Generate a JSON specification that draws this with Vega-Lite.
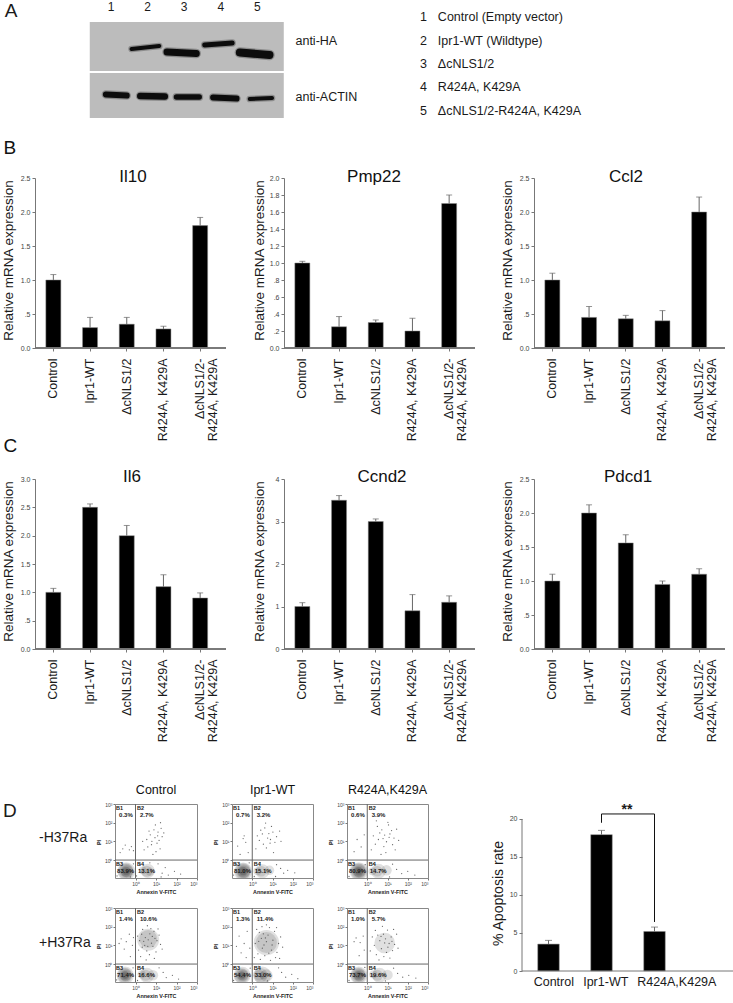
{"$schema":"https://vega.github.io/schema/vega-lite/v6.json","padding":0,"background":"white","config":{"font":"Liberation Sans","view":{"stroke":null},"title":{"fontWeight":"normal","baseline":"alphabetic","color":"#111"},"axis":{"grid":false,"labelOverlap":false,"domainColor":"#777","tickColor":"#777","labelColor":"#444","titleColor":"#1a1a1a","titleFontWeight":"normal"},"text":{"color":"#1a1a1a"}},
"datasets":{
"gel":[{"blot":"HA","a":0.42,"b":5.72,"t":22,"u":71},{"blot":"ACTIN","a":0.42,"b":5.72,"t":73,"u":118}],
"bands":[{"lane":2,"a":1.56,"b":2.32,"ya":49,"yb":46,"w":4},{"lane":3,"a":2.53,"b":3.33,"ya":52,"yb":53.5,"w":7},{"lane":4,"a":3.56,"b":4.31,"ya":45,"yb":43,"w":5},{"lane":5,"a":4.52,"b":5.33,"ya":52.5,"yb":55,"w":8},{"lane":1,"a":0.86,"b":1.43,"ya":94.5,"yb":95.5,"w":6},{"lane":2,"a":1.8,"b":2.47,"ya":96,"yb":96.5,"w":6.5},{"lane":3,"a":2.79,"b":3.41,"ya":97,"yb":97,"w":5.5},{"lane":4,"a":3.79,"b":4.43,"ya":97.5,"yb":98.5,"w":6},{"lane":5,"a":4.79,"b":5.4,"ya":99,"yb":98,"w":4}],
"atext":[{"k":"lane","s":"1","x":1,"y":7},{"k":"lane","s":"2","x":2,"y":7},{"k":"lane","s":"3","x":3,"y":7},{"k":"lane","s":"4","x":4,"y":7},{"k":"lane","s":"5","x":5,"y":7},{"k":"lab","s":"anti-HA","x":6.04,"y":41},{"k":"lab","s":"anti-ACTIN","x":6.04,"y":97},{"k":"lab","s":"1","x":9.44,"y":17},{"k":"lab","s":"2","x":9.44,"y":41},{"k":"lab","s":"3","x":9.44,"y":64},{"k":"lab","s":"4","x":9.44,"y":87},{"k":"lab","s":"5","x":9.44,"y":111},{"k":"lab","s":"Control (Empty vector)","x":9.93,"y":17},{"k":"lab","s":"Ipr1-WT (Wildtype)","x":9.93,"y":41},{"k":"lab","s":"ΔcNLS1/2","x":9.93,"y":64},{"k":"lab","s":"R424A, K429A","x":9.93,"y":87},{"k":"lab","s":"ΔcNLS1/2-R424A, K429A","x":9.93,"y":111},{"k":"big","s":"A","x":-1.9,"y":17}],
"expr":[
{"gene":"Il10","group":"Control","value":1.0,"top":1.08},{"gene":"Il10","group":"Ipr1-WT","value":0.3,"top":0.45},{"gene":"Il10","group":"ΔcNLS1/2","value":0.35,"top":0.45},{"gene":"Il10","group":"R424A, K429A","value":0.28,"top":0.32},{"gene":"Il10","group":"ΔcNLS1/2-|R424A, K429A","value":1.8,"top":1.92},
{"gene":"Pmp22","group":"Control","value":1.0,"top":1.02},{"gene":"Pmp22","group":"Ipr1-WT","value":0.25,"top":0.37},{"gene":"Pmp22","group":"ΔcNLS1/2","value":0.3,"top":0.33},{"gene":"Pmp22","group":"R424A, K429A","value":0.2,"top":0.35},{"gene":"Pmp22","group":"ΔcNLS1/2-|R424A, K429A","value":1.7,"top":1.8},
{"gene":"Ccl2","group":"Control","value":1.0,"top":1.1},{"gene":"Ccl2","group":"Ipr1-WT","value":0.45,"top":0.61},{"gene":"Ccl2","group":"ΔcNLS1/2","value":0.43,"top":0.48},{"gene":"Ccl2","group":"R424A, K429A","value":0.4,"top":0.55},{"gene":"Ccl2","group":"ΔcNLS1/2-|R424A, K429A","value":2.0,"top":2.22},
{"gene":"Il6","group":"Control","value":1.0,"top":1.07},{"gene":"Il6","group":"Ipr1-WT","value":2.5,"top":2.56},{"gene":"Il6","group":"ΔcNLS1/2","value":2.0,"top":2.18},{"gene":"Il6","group":"R424A, K429A","value":1.1,"top":1.31},{"gene":"Il6","group":"ΔcNLS1/2-|R424A, K429A","value":0.9,"top":0.99},
{"gene":"Ccnd2","group":"Control","value":1.0,"top":1.09},{"gene":"Ccnd2","group":"Ipr1-WT","value":3.5,"top":3.61},{"gene":"Ccnd2","group":"ΔcNLS1/2","value":3.0,"top":3.06},{"gene":"Ccnd2","group":"R424A, K429A","value":0.9,"top":1.28},{"gene":"Ccnd2","group":"ΔcNLS1/2-|R424A, K429A","value":1.1,"top":1.25},
{"gene":"Pdcd1","group":"Control","value":1.0,"top":1.1},{"gene":"Pdcd1","group":"Ipr1-WT","value":2.0,"top":2.12},{"gene":"Pdcd1","group":"ΔcNLS1/2","value":1.56,"top":1.68},{"gene":"Pdcd1","group":"R424A, K429A","value":0.95,"top":1.0},{"gene":"Pdcd1","group":"ΔcNLS1/2-|R424A, K429A","value":1.1,"top":1.18}],
"apop":[{"n":1,"value":3.54,"top":4.03},{"n":2,"value":17.94,"top":18.5},{"n":3,"value":5.2,"top":5.78}],
"apopLabels":[{"s":"Control","n":1.1,"y":-1.45},{"s":"Ipr1-WT","n":2.08,"y":-1.45},{"s":"R424A,K429A","n":3.42,"y":-1.45}],
"bracket":[{"step":1,"n":2,"y":19.5},{"step":2,"n":2,"y":20.66},{"step":3,"n":3,"y":20.66},{"step":4,"n":3,"y":6.45}],
"stars":[{"s":"**","n":2.48,"y":21.2}],
"side":[{"s":"D","c":"big","x":2,"y":13,"cell":1},{"s":"-H37Ra","c":"m","x":38,"y":34,"cell":1},{"s":"+H37Ra","c":"m","x":38,"y":35,"cell":2}],
"quad":[{"s":"B1","x":-0.95,"y":2.79},{"s":"B2","x":0.07,"y":2.79},{"s":"B3","x":-0.95,"y":-0.2},{"s":"B4","x":0.07,"y":-0.2}],
"pct":[
{"p":"c1","s":"0.3%","x":-0.8,"y":2.41},{"p":"c1","s":"2.7%","x":0.22,"y":2.41},{"p":"c1","s":"83.9%","x":-0.9,"y":-0.58},{"p":"c1","s":"13.1%","x":0.12,"y":-0.58},
{"p":"i1","s":"0.7%","x":-0.8,"y":2.41},{"p":"i1","s":"3.2%","x":0.22,"y":2.41},{"p":"i1","s":"81.0%","x":-0.9,"y":-0.58},{"p":"i1","s":"15.1%","x":0.12,"y":-0.58},
{"p":"r1","s":"0.6%","x":-0.8,"y":2.41},{"p":"r1","s":"3.9%","x":0.22,"y":2.41},{"p":"r1","s":"80.9%","x":-0.9,"y":-0.58},{"p":"r1","s":"14.7%","x":0.12,"y":-0.58},
{"p":"c2","s":"1.4%","x":-0.8,"y":2.41},{"p":"c2","s":"10.6%","x":0.22,"y":2.41},{"p":"c2","s":"71.4%","x":-0.9,"y":-0.58},{"p":"c2","s":"16.6%","x":0.12,"y":-0.58},
{"p":"i2","s":"1.3%","x":-0.8,"y":2.41},{"p":"i2","s":"11.4%","x":0.22,"y":2.41},{"p":"i2","s":"54.4%","x":-0.9,"y":-0.58},{"p":"i2","s":"33.0%","x":0.12,"y":-0.58},
{"p":"r2","s":"1.0%","x":-0.8,"y":2.41},{"p":"r2","s":"5.7%","x":0.22,"y":2.41},{"p":"r2","s":"73.7%","x":-0.9,"y":-0.58},{"p":"r2","s":"19.6%","x":0.12,"y":-0.58}],
"blobs":[
{"p":"c1","x":-0.45,"y":-0.6,"n":320},{"p":"c1","x":-0.47,"y":-0.6,"n":250},{"p":"c1","x":-0.45,"y":-0.58,"n":190},{"p":"c1","x":-0.43,"y":-0.6,"n":140},{"p":"c1","x":-0.47,"y":-0.62,"n":100},{"p":"c1","x":-0.45,"y":-0.6,"n":65},{"p":"c1","x":-0.46,"y":-0.62,"n":35},{"p":"c1","x":0.6,"y":-0.58,"n":200},{"p":"c1","x":0.55,"y":-0.6,"n":120},{"p":"c1","x":0.7,"y":-0.62,"n":70},{"p":"c1","x":0.35,"y":-0.55,"n":60},
{"p":"i1","x":-0.45,"y":-0.62,"n":330},{"p":"i1","x":-0.46,"y":-0.6,"n":260},{"p":"i1","x":-0.44,"y":-0.6,"n":200},{"p":"i1","x":-0.43,"y":-0.62,"n":150},{"p":"i1","x":-0.47,"y":-0.62,"n":105},{"p":"i1","x":-0.45,"y":-0.6,"n":70},{"p":"i1","x":-0.46,"y":-0.62,"n":40},{"p":"i1","x":0.5,"y":-0.6,"n":200},{"p":"i1","x":0.45,"y":-0.6,"n":110},{"p":"i1","x":0.85,"y":-0.55,"n":90},{"p":"i1","x":0.25,"y":-0.6,"n":60},
{"p":"r1","x":-0.42,"y":-0.6,"n":330},{"p":"r1","x":-0.43,"y":-0.6,"n":260},{"p":"r1","x":-0.42,"y":-0.58,"n":200},{"p":"r1","x":-0.4,"y":-0.6,"n":150},{"p":"r1","x":-0.44,"y":-0.62,"n":105},{"p":"r1","x":-0.42,"y":-0.6,"n":70},{"p":"r1","x":-0.43,"y":-0.6,"n":40},{"p":"r1","x":0.55,"y":-0.6,"n":220},{"p":"r1","x":0.5,"y":-0.6,"n":110},{"p":"r1","x":0.95,"y":-0.55,"n":110},{"p":"r1","x":0.25,"y":-0.6,"n":60},
{"p":"c2","x":-0.5,"y":-0.6,"n":300},{"p":"c2","x":-0.52,"y":-0.6,"n":230},{"p":"c2","x":-0.5,"y":-0.58,"n":170},{"p":"c2","x":-0.48,"y":-0.6,"n":125},{"p":"c2","x":-0.52,"y":-0.62,"n":85},{"p":"c2","x":-0.5,"y":-0.6,"n":55},{"p":"c2","x":-0.51,"y":-0.62,"n":30},{"p":"c2","x":0.55,"y":-0.6,"n":220},{"p":"c2","x":0.5,"y":-0.6,"n":120},{"p":"c2","x":0.85,"y":-0.6,"n":110},{"p":"c2","x":0.3,"y":-0.55,"n":70},{"p":"c2","x":0.62,"y":1.3,"n":480},{"p":"c2","x":0.62,"y":1.35,"n":320},
{"p":"i2","x":-0.5,"y":-0.6,"n":290},{"p":"i2","x":-0.52,"y":-0.62,"n":220},{"p":"i2","x":-0.5,"y":-0.6,"n":160},{"p":"i2","x":-0.48,"y":-0.6,"n":115},{"p":"i2","x":-0.53,"y":-0.62,"n":80},{"p":"i2","x":-0.5,"y":-0.6,"n":50},{"p":"i2","x":-0.5,"y":-0.62,"n":28},{"p":"i2","x":0.5,"y":-0.6,"n":300},{"p":"i2","x":0.4,"y":-0.6,"n":210},{"p":"i2","x":0.7,"y":-0.62,"n":160},{"p":"i2","x":0.35,"y":-0.6,"n":110},{"p":"i2","x":0.55,"y":-0.6,"n":60},{"p":"i2","x":0.7,"y":1.15,"n":640},{"p":"i2","x":0.7,"y":1.15,"n":440},
{"p":"r2","x":-0.42,"y":-0.6,"n":300},{"p":"r2","x":-0.43,"y":-0.6,"n":230},{"p":"r2","x":-0.42,"y":-0.58,"n":170},{"p":"r2","x":-0.4,"y":-0.6,"n":125},{"p":"r2","x":-0.44,"y":-0.62,"n":85},{"p":"r2","x":-0.42,"y":-0.6,"n":55},{"p":"r2","x":-0.43,"y":-0.6,"n":30},{"p":"r2","x":0.6,"y":-0.6,"n":220},{"p":"r2","x":0.5,"y":-0.6,"n":120},{"p":"r2","x":1.0,"y":-0.58,"n":110},{"p":"r2","x":0.3,"y":-0.55,"n":70},{"p":"r2","x":0.86,"y":1.13,"n":420}],
"dots":[
{"p":"c1","x":0.95,"y":1.2},{"p":"c1","x":1.1,"y":1.5},{"p":"c1","x":0.8,"y":1.0},{"p":"c1","x":1.25,"y":1.7},{"p":"c1","x":0.6,"y":0.7},{"p":"c1","x":1.05,"y":0.9},{"p":"c1","x":0.9,"y":1.62},{"p":"c1","x":1.3,"y":1.25},{"p":"c1","x":0.72,"y":1.35},{"p":"c1","x":1.15,"y":1.05},{"p":"c1","x":0.55,"y":1.1},{"p":"c1","x":1.0,"y":0.45},{"p":"c1","x":0.85,"y":0.3},{"p":"c1","x":1.2,"y":0.6},{"p":"c1","x":1.38,"y":1.45},{"p":"c1","x":0.97,"y":1.88},{"p":"c1","x":0.42,"y":0.55},{"p":"c1","x":1.08,"y":1.3},{"p":"c1","x":0.78,"y":0.82},{"p":"c1","x":1.22,"y":2.0},{"p":"c1","x":0.66,"y":1.55},{"p":"c1","x":0.35,"y":1.0},{"p":"c1","x":-0.5,"y":0.8},{"p":"c1","x":-0.3,"y":0.55},{"p":"c1","x":-0.62,"y":0.6},{"p":"c1","x":-0.2,"y":0.72},{"p":"c1","x":-0.75,"y":0.4},{"p":"c1","x":-0.1,"y":0.5},{"p":"c1","x":1.3,"y":-0.7},{"p":"c1","x":1.45,"y":-0.4},{"p":"c1","x":1.6,"y":-0.8},{"p":"c1","x":0.2,"y":-0.25},{"p":"c1","x":1.1,"y":-0.2},{"p":"c1","x":1.9,"y":-0.6},{"p":"c1","x":0.05,"y":-0.85},{"p":"c1","x":1.25,"y":-0.9},{"p":"c1","x":0.7,"y":-0.15},{"p":"c1","x":2.2,"y":-0.75},{"p":"c1","x":-0.85,"y":-0.2},{"p":"c1","x":-0.1,"y":-0.2},{"p":"c1","x":-0.9,"y":-0.85},{"p":"c1","x":-0.25,"y":-0.9},
{"p":"i1","x":0.76,"y":1.18},{"p":"i1","x":0.5,"y":1.4},{"p":"i1","x":1.02,"y":1.5},{"p":"i1","x":0.88,"y":0.9},{"p":"i1","x":0.62,"y":1.72},{"p":"i1","x":1.2,"y":1.25},{"p":"i1","x":0.35,"y":1.05},{"p":"i1","x":0.95,"y":1.8},{"p":"i1","x":0.7,"y":0.65},{"p":"i1","x":1.35,"y":1.55},{"p":"i1","x":0.55,"y":0.85},{"p":"i1","x":1.12,"y":0.95},{"p":"i1","x":0.42,"y":1.6},{"p":"i1","x":0.82,"y":1.42},{"p":"i1","x":1.05,"y":0.4},{"p":"i1","x":0.25,"y":1.3},{"p":"i1","x":1.42,"y":1.0},{"p":"i1","x":0.66,"y":1.98},{"p":"i1","x":0.9,"y":1.1},{"p":"i1","x":0.18,"y":0.6},{"p":"i1","x":-0.4,"y":1.3},{"p":"i1","x":-0.32,"y":0.95},{"p":"i1","x":-0.45,"y":1.15},{"p":"i1","x":-0.6,"y":0.3},{"p":"i1","x":-0.2,"y":0.4},{"p":"i1","x":-0.72,"y":0.75},{"p":"i1","x":1.4,"y":-0.45},{"p":"i1","x":1.55,"y":-0.7},{"p":"i1","x":1.2,"y":-0.25},{"p":"i1","x":0.4,"y":-0.15},{"p":"i1","x":1.75,"y":-0.55},{"p":"i1","x":0.1,"y":-0.88},{"p":"i1","x":1.15,"y":-0.88},{"p":"i1","x":2.1,"y":-0.68},{"p":"i1","x":-0.82,"y":-0.22},{"p":"i1","x":-0.15,"y":-0.15},{"p":"i1","x":-0.92,"y":-0.8},
{"p":"r1","x":0.86,"y":1.34},{"p":"r1","x":1.2,"y":1.58},{"p":"r1","x":0.55,"y":1.1},{"p":"r1","x":1.05,"y":1.88},{"p":"r1","x":0.72,"y":1.62},{"p":"r1","x":1.32,"y":1.18},{"p":"r1","x":0.4,"y":0.85},{"p":"r1","x":0.95,"y":0.98},{"p":"r1","x":1.12,"y":1.4},{"p":"r1","x":0.62,"y":1.45},{"p":"r1","x":1.45,"y":1.65},{"p":"r1","x":0.82,"y":0.72},{"p":"r1","x":1.02,"y":2.02},{"p":"r1","x":0.3,"y":1.3},{"p":"r1","x":1.25,"y":0.82},{"p":"r1","x":0.5,"y":1.8},{"p":"r1","x":0.78,"y":1.15},{"p":"r1","x":1.38,"y":0.55},{"p":"r1","x":0.92,"y":0.4},{"p":"r1","x":0.2,"y":0.55},{"p":"r1","x":1.08,"y":1.22},{"p":"r1","x":0.68,"y":0.3},{"p":"r1","x":1.55,"y":1.05},{"p":"r1","x":0.45,"y":2.1},{"p":"r1","x":-0.5,"y":1.1},{"p":"r1","x":-0.3,"y":0.7},{"p":"r1","x":-0.65,"y":0.45},{"p":"r1","x":-0.15,"y":1.35},{"p":"r1","x":1.45,"y":-0.5},{"p":"r1","x":1.7,"y":-0.72},{"p":"r1","x":1.25,"y":-0.22},{"p":"r1","x":0.3,"y":-0.18},{"p":"r1","x":2.0,"y":-0.6},{"p":"r1","x":2.35,"y":-0.8},{"p":"r1","x":1.1,"y":-0.9},{"p":"r1","x":-0.8,"y":-0.18},{"p":"r1","x":-0.1,"y":-0.25},{"p":"r1","x":-0.9,"y":-0.88},
{"p":"c2","x":0.62,"y":1.3},{"p":"c2","x":0.3,"y":1.6},{"p":"c2","x":0.9,"y":1.75},{"p":"c2","x":0.45,"y":1.0},{"p":"c2","x":0.75,"y":1.9},{"p":"c2","x":1.05,"y":1.25},{"p":"c2","x":0.2,"y":1.25},{"p":"c2","x":0.55,"y":0.7},{"p":"c2","x":0.85,"y":0.95},{"p":"c2","x":1.15,"y":1.55},{"p":"c2","x":0.35,"y":1.85},{"p":"c2","x":0.68,"y":0.5},{"p":"c2","x":1.0,"y":0.65},{"p":"c2","x":0.15,"y":0.75},{"p":"c2","x":0.48,"y":1.42},{"p":"c2","x":0.78,"y":1.12},{"p":"c2","x":1.22,"y":1.05},{"p":"c2","x":0.58,"y":2.05},{"p":"c2","x":0.25,"y":0.4},{"p":"c2","x":0.92,"y":0.3},{"p":"c2","x":0.4,"y":1.22},{"p":"c2","x":0.7,"y":1.62},{"p":"c2","x":1.1,"y":1.88},{"p":"c2","x":0.52,"y":0.22},{"p":"c2","x":0.1,"y":1.5},{"p":"c2","x":0.82,"y":1.48},{"p":"c2","x":1.3,"y":0.8},{"p":"c2","x":0.33,"y":0.9},{"p":"c2","x":0.6,"y":0.95},{"p":"c2","x":0.95,"y":1.38},{"p":"c2","x":-0.7,"y":1.35},{"p":"c2","x":-0.45,"y":1.2},{"p":"c2","x":-0.3,"y":1.6},{"p":"c2","x":-0.55,"y":0.8},{"p":"c2","x":-0.15,"y":1.0},{"p":"c2","x":-0.8,"y":1.1},{"p":"c2","x":-0.25,"y":0.4},{"p":"c2","x":-0.1,"y":1.42},{"p":"c2","x":1.35,"y":-0.45},{"p":"c2","x":1.5,"y":-0.72},{"p":"c2","x":1.15,"y":-0.2},{"p":"c2","x":0.35,"y":-0.15},{"p":"c2","x":1.8,"y":-0.6},{"p":"c2","x":2.1,"y":-0.8},{"p":"c2","x":0.1,"y":-0.88},{"p":"c2","x":-0.85,"y":-0.2},{"p":"c2","x":-0.12,"y":-0.2},{"p":"c2","x":-0.92,"y":-0.85},
{"p":"i2","x":0.7,"y":1.2},{"p":"i2","x":0.35,"y":1.7},{"p":"i2","x":1.1,"y":1.75},{"p":"i2","x":0.5,"y":0.85},{"p":"i2","x":0.85,"y":1.95},{"p":"i2","x":1.3,"y":1.1},{"p":"i2","x":0.15,"y":1.1},{"p":"i2","x":0.62,"y":0.45},{"p":"i2","x":0.95,"y":0.75},{"p":"i2","x":1.4,"y":1.45},{"p":"i2","x":0.28,"y":0.55},{"p":"i2","x":1.15,"y":0.35},{"p":"i2","x":0.45,"y":1.38},{"p":"i2","x":0.78,"y":1.55},{"p":"i2","x":1.02,"y":1.28},{"p":"i2","x":0.58,"y":1.02},{"p":"i2","x":0.22,"y":1.85},{"p":"i2","x":0.9,"y":0.2},{"p":"i2","x":1.22,"y":0.62},{"p":"i2","x":0.4,"y":0.25},{"p":"i2","x":0.7,"y":2.1},{"p":"i2","x":1.5,"y":0.9},{"p":"i2","x":0.1,"y":0.35},{"p":"i2","x":0.55,"y":1.62},{"p":"i2","x":0.98,"y":1.02},{"p":"i2","x":0.32,"y":1.22},{"p":"i2","x":0.82,"y":0.58},{"p":"i2","x":1.2,"y":1.95},{"p":"i2","x":0.65,"y":1.4},{"p":"i2","x":1.35,"y":0.3},{"p":"i2","x":0.48,"y":2.0},{"p":"i2","x":-0.65,"y":1.5},{"p":"i2","x":-0.4,"y":1.1},{"p":"i2","x":-0.25,"y":1.75},{"p":"i2","x":-0.55,"y":0.6},{"p":"i2","x":-0.12,"y":0.85},{"p":"i2","x":-0.78,"y":0.95},{"p":"i2","x":-0.3,"y":0.35},{"p":"i2","x":1.45,"y":-0.45},{"p":"i2","x":1.65,"y":-0.7},{"p":"i2","x":1.3,"y":-0.2},{"p":"i2","x":0.3,"y":-0.12},{"p":"i2","x":1.95,"y":-0.55},{"p":"i2","x":2.25,"y":-0.78},{"p":"i2","x":0.75,"y":-0.9},{"p":"i2","x":-0.88,"y":-0.18},{"p":"i2","x":-0.1,"y":-0.22},{"p":"i2","x":-0.92,"y":-0.88},
{"p":"r2","x":0.86,"y":1.13},{"p":"r2","x":1.18,"y":1.45},{"p":"r2","x":0.52,"y":1.55},{"p":"r2","x":1.0,"y":1.82},{"p":"r2","x":0.7,"y":0.82},{"p":"r2","x":1.35,"y":1.05},{"p":"r2","x":0.35,"y":1.0},{"p":"r2","x":0.95,"y":0.62},{"p":"r2","x":1.25,"y":0.72},{"p":"r2","x":0.62,"y":1.25},{"p":"r2","x":0.8,"y":1.6},{"p":"r2","x":1.45,"y":1.6},{"p":"r2","x":0.45,"y":0.5},{"p":"r2","x":1.08,"y":1.1},{"p":"r2","x":0.25,"y":1.45},{"p":"r2","x":0.75,"y":2.02},{"p":"r2","x":1.12,"y":0.32},{"p":"r2","x":0.58,"y":0.22},{"p":"r2","x":0.9,"y":1.35},{"p":"r2","x":1.3,"y":1.85},{"p":"r2","x":0.4,"y":1.8},{"p":"r2","x":0.15,"y":0.7},{"p":"r2","x":1.52,"y":0.85},{"p":"r2","x":0.68,"y":1.48},{"p":"r2","x":1.02,"y":0.9},{"p":"r2","x":0.82,"y":0.4},{"p":"r2","x":1.22,"y":1.22},{"p":"r2","x":-0.55,"y":1.4},{"p":"r2","x":-0.35,"y":1.15},{"p":"r2","x":-0.2,"y":1.5},{"p":"r2","x":-0.65,"y":1.2},{"p":"r2","x":-0.4,"y":0.45},{"p":"r2","x":-0.15,"y":0.75},{"p":"r2","x":1.5,"y":-0.5},{"p":"r2","x":1.75,"y":-0.7},{"p":"r2","x":1.3,"y":-0.22},{"p":"r2","x":0.35,"y":-0.15},{"p":"r2","x":2.05,"y":-0.6},{"p":"r2","x":2.4,"y":-0.75},{"p":"r2","x":0.9,"y":-0.9},{"p":"r2","x":-0.85,"y":-0.2},{"p":"r2","x":-0.12,"y":-0.18},{"p":"r2","x":-0.9,"y":-0.88}]
},
"vconcat":[
{"width":733,"height":118,"layer":[
{"data":{"name":"gel"},"mark":{"type":"rect","color":"#bcbcbc"},"encoding":{"x":{"field":"a","type":"quantitative","scale":{"domain":[-2.005,18.02],"nice":false},"axis":null},"x2":{"field":"b"},"y":{"field":"t","type":"quantitative","scale":{"domain":[118,0],"nice":false},"axis":null},"y2":{"field":"u"}}},
{"data":{"name":"bands"},"mark":{"type":"rule","color":"#333","opacity":0.35,"strokeCap":"round"},"encoding":{"x":{"field":"a","type":"quantitative"},"x2":{"field":"b"},"y":{"field":"ya","type":"quantitative"},"y2":{"field":"yb"},"size":{"field":"w","type":"quantitative","scale":{"domain":[0,10],"range":[2.5,12.5]},"legend":null}}},
{"data":{"name":"bands"},"mark":{"type":"rule","color":"#0c0c0c","strokeCap":"round"},"encoding":{"x":{"field":"a","type":"quantitative"},"x2":{"field":"b"},"y":{"field":"ya","type":"quantitative"},"y2":{"field":"yb"},"size":{"field":"w","type":"quantitative","scale":{"domain":[0,10],"range":[0,10]},"legend":null}}},
{"data":{"name":"atext"},"transform":[{"filter":"datum.k=='lane'"}],"mark":{"type":"text","fontSize":12,"align":"center","baseline":"middle"},"encoding":{"x":{"field":"x","type":"quantitative"},"y":{"field":"y","type":"quantitative"},"text":{"field":"s"}}},
{"data":{"name":"atext"},"transform":[{"filter":"datum.k=='lab'"}],"mark":{"type":"text","fontSize":12.5,"align":"left","baseline":"middle"},"encoding":{"x":{"field":"x","type":"quantitative"},"y":{"field":"y","type":"quantitative"},"text":{"field":"s"}}},
{"data":{"name":"atext"},"transform":[{"filter":"datum.k=='big'"}],"mark":{"type":"text","fontSize":19,"align":"left","baseline":"alphabetic"},"encoding":{"x":{"field":"x","type":"quantitative"},"y":{"field":"y","type":"quantitative"},"text":{"field":"s"}}}
],"resolve":{"scale":{"size":"independent"}}},
{"width":5,"height":60,"data":{"values":[{"a":1}]},"mark":{"type":"rule","opacity":0},"encoding":{}},
{"hconcat":[
{"width":34,"height":1,"title":{"text":"B","fontSize":19,"anchor":"start","dx":3,"offset":20},"data":{"values":[{"a":1}]},"mark":{"type":"rule","opacity":0},"encoding":{}},
{"width":191,"height":170,"data":{"name":"expr"},"transform":[{"filter":"datum.gene=='Il10'"}],"encoding":{"x":{"field":"group","type":"nominal","sort":null,"title":null,"scale":{"range":[0,183.5],"padding":0},"axis":{"labelExpr":"split(datum.label,'|')","labelAngle":-90,"labelAlign":"right","labelBaseline":"middle","labelFontSize":12.5,"labelColor":"#1a1a1a","labelLineHeight":13,"labelPadding":7,"tickSize":3,"domain":false,"labelBound":false,"labelFlush":false}}},"layer":[
{"mark":{"type":"rule","color":"#666"},"encoding":{"y":{"field":"value","type":"quantitative","scale":{"domain":[0,2.5],"nice":false},"axis":{"values":[0,0.5,1,1.5,2,2.5],"tickCount":20,"labelExpr":"datum.value>0&&datum.value<1?slice(format(datum.value,'.1f'),1):format(datum.value,'.1f')","labelFontSize":7,"tickSize":3,"labelPadding":2,"title":"Relative mRNA expression","titleFontSize":13.5,"titleX":-23,"titleY":82,"titleBaseline":"alphabetic"}},"y2":{"field":"top"}}},
{"mark":{"type":"tick","color":"#666","size":6,"thickness":1},"encoding":{"y":{"field":"top","type":"quantitative"}}},
{"mark":{"type":"bar","width":15,"color":"#000","stroke":"#888","strokeWidth":0.5},"encoding":{"y":{"field":"value","type":"quantitative"}}},
{"mark":{"type":"rule","color":"#777"},"encoding":{"x":null,"y":{"datum":0}}},
{"transform":[{"filter":"datum.group=='ΔcNLS1/2'"}],"mark":{"type":"text","fontSize":17,"baseline":"alphabetic","dy":4,"dx":6.25,"color":"#111"},"encoding":{"y":{"datum":2.5},"text":{"field":"gene"}}}
]},
{"width":58,"height":1,"data":{"values":[{"a":1}]},"mark":{"type":"rule","opacity":0},"encoding":{}},
{"width":191,"height":170,"data":{"name":"expr"},"transform":[{"filter":"datum.gene=='Pmp22'"}],"encoding":{"x":{"field":"group","type":"nominal","sort":null,"title":null,"scale":{"range":[0,183.5],"padding":0},"axis":{"labelExpr":"split(datum.label,'|')","labelAngle":-90,"labelAlign":"right","labelBaseline":"middle","labelFontSize":12.5,"labelColor":"#1a1a1a","labelLineHeight":13,"labelPadding":7,"tickSize":3,"domain":false,"labelBound":false,"labelFlush":false}}},"layer":[
{"mark":{"type":"rule","color":"#666"},"encoding":{"y":{"field":"value","type":"quantitative","scale":{"domain":[0,2],"nice":false},"axis":{"values":[0,0.2,0.4,0.6,0.8,1,1.2,1.4,1.6,1.8,2],"tickCount":20,"labelExpr":"datum.value>0&&datum.value<1?slice(format(datum.value,'.1f'),1):format(datum.value,'.1f')","labelFontSize":7,"tickSize":3,"labelPadding":2,"title":"Relative mRNA expression","titleFontSize":13.5,"titleX":-21,"titleY":82,"titleBaseline":"alphabetic"}},"y2":{"field":"top"}}},
{"mark":{"type":"tick","color":"#666","size":6,"thickness":1},"encoding":{"y":{"field":"top","type":"quantitative"}}},
{"mark":{"type":"bar","width":15,"color":"#000","stroke":"#888","strokeWidth":0.5},"encoding":{"y":{"field":"value","type":"quantitative"}}},
{"mark":{"type":"rule","color":"#777"},"encoding":{"x":null,"y":{"datum":0}}},
{"transform":[{"filter":"datum.group=='ΔcNLS1/2'"}],"mark":{"type":"text","fontSize":17,"baseline":"alphabetic","dy":4,"dx":-1.75,"color":"#111"},"encoding":{"y":{"datum":2},"text":{"field":"gene"}}}
]},
{"width":59,"height":1,"data":{"values":[{"a":1}]},"mark":{"type":"rule","opacity":0},"encoding":{}},
{"width":191,"height":170,"data":{"name":"expr"},"transform":[{"filter":"datum.gene=='Ccl2'"}],"encoding":{"x":{"field":"group","type":"nominal","sort":null,"title":null,"scale":{"range":[0,183.5],"padding":0},"axis":{"labelExpr":"split(datum.label,'|')","labelAngle":-90,"labelAlign":"right","labelBaseline":"middle","labelFontSize":12.5,"labelColor":"#1a1a1a","labelLineHeight":13,"labelPadding":7,"tickSize":3,"domain":false,"labelBound":false,"labelFlush":false}}},"layer":[
{"mark":{"type":"rule","color":"#666"},"encoding":{"y":{"field":"value","type":"quantitative","scale":{"domain":[0,2.5],"nice":false},"axis":{"values":[0,0.5,1,1.5,2,2.5],"tickCount":20,"labelExpr":"datum.value>0&&datum.value<1?slice(format(datum.value,'.1f'),1):format(datum.value,'.1f')","labelFontSize":7,"tickSize":3,"labelPadding":2,"title":"Relative mRNA expression","titleFontSize":13.5,"titleX":-23,"titleY":82,"titleBaseline":"alphabetic"}},"y2":{"field":"top"}}},
{"mark":{"type":"tick","color":"#666","size":6,"thickness":1},"encoding":{"y":{"field":"top","type":"quantitative"}}},
{"mark":{"type":"bar","width":15,"color":"#000","stroke":"#888","strokeWidth":0.5},"encoding":{"y":{"field":"value","type":"quantitative"}}},
{"mark":{"type":"rule","color":"#777"},"encoding":{"x":null,"y":{"datum":0}}},
{"transform":[{"filter":"datum.group=='ΔcNLS1/2'"}],"mark":{"type":"text","fontSize":17,"baseline":"alphabetic","dy":4,"dx":0.25,"color":"#111"},"encoding":{"y":{"datum":2.5},"text":{"field":"gene"}}}
]}
],"spacing":0,"bounds":"flush"},
{"width":5,"height":301,"data":{"values":[{"a":1}]},"mark":{"type":"rule","opacity":0},"encoding":{}},
{"hconcat":[
{"width":34,"height":1,"title":{"text":"C","fontSize":19,"anchor":"start","dx":3,"offset":23},"data":{"values":[{"a":1}]},"mark":{"type":"rule","opacity":0},"encoding":{}},
{"width":191,"height":170,"data":{"name":"expr"},"transform":[{"filter":"datum.gene=='Il6'"}],"encoding":{"x":{"field":"group","type":"nominal","sort":null,"title":null,"scale":{"range":[0,183.5],"padding":0},"axis":{"labelExpr":"split(datum.label,'|')","labelAngle":-90,"labelAlign":"right","labelBaseline":"middle","labelFontSize":12.5,"labelColor":"#1a1a1a","labelLineHeight":13,"labelPadding":7,"tickSize":3,"domain":false,"labelBound":false,"labelFlush":false}}},"layer":[
{"mark":{"type":"rule","color":"#666"},"encoding":{"y":{"field":"value","type":"quantitative","scale":{"domain":[0,3],"nice":false},"axis":{"values":[0,0.5,1,1.5,2,2.5,3],"tickCount":20,"labelExpr":"datum.value>0&&datum.value<1?slice(format(datum.value,'.1f'),1):format(datum.value,'.1f')","labelFontSize":7,"tickSize":3,"labelPadding":2,"title":"Relative mRNA expression","titleFontSize":13.5,"titleX":-23,"titleY":82,"titleBaseline":"alphabetic"}},"y2":{"field":"top"}}},
{"mark":{"type":"tick","color":"#666","size":6,"thickness":1},"encoding":{"y":{"field":"top","type":"quantitative"}}},
{"mark":{"type":"bar","width":15,"color":"#000","stroke":"#888","strokeWidth":0.5},"encoding":{"y":{"field":"value","type":"quantitative"}}},
{"mark":{"type":"rule","color":"#777"},"encoding":{"x":null,"y":{"datum":0}}},
{"transform":[{"filter":"datum.group=='ΔcNLS1/2'"}],"mark":{"type":"text","fontSize":17,"baseline":"alphabetic","dy":3,"dx":5.25,"color":"#111"},"encoding":{"y":{"datum":3},"text":{"field":"gene"}}}
]},
{"width":58,"height":1,"data":{"values":[{"a":1}]},"mark":{"type":"rule","opacity":0},"encoding":{}},
{"width":191,"height":170,"data":{"name":"expr"},"transform":[{"filter":"datum.gene=='Ccnd2'"}],"encoding":{"x":{"field":"group","type":"nominal","sort":null,"title":null,"scale":{"range":[0,183.5],"padding":0},"axis":{"labelExpr":"split(datum.label,'|')","labelAngle":-90,"labelAlign":"right","labelBaseline":"middle","labelFontSize":12.5,"labelColor":"#1a1a1a","labelLineHeight":13,"labelPadding":7,"tickSize":3,"domain":false,"labelBound":false,"labelFlush":false}}},"layer":[
{"mark":{"type":"rule","color":"#666"},"encoding":{"y":{"field":"value","type":"quantitative","scale":{"domain":[0,4],"nice":false},"axis":{"values":[0,1,2,3,4],"tickCount":20,"format":"d","labelFontSize":7,"tickSize":3,"labelPadding":2,"title":"Relative mRNA expression","titleFontSize":13.5,"titleX":-21,"titleY":82,"titleBaseline":"alphabetic"}},"y2":{"field":"top"}}},
{"mark":{"type":"tick","color":"#666","size":6,"thickness":1},"encoding":{"y":{"field":"top","type":"quantitative"}}},
{"mark":{"type":"bar","width":15,"color":"#000","stroke":"#888","strokeWidth":0.5},"encoding":{"y":{"field":"value","type":"quantitative"}}},
{"mark":{"type":"rule","color":"#777"},"encoding":{"x":null,"y":{"datum":0}}},
{"transform":[{"filter":"datum.group=='ΔcNLS1/2'"}],"mark":{"type":"text","fontSize":17,"baseline":"alphabetic","dy":3,"dx":6.25,"color":"#111"},"encoding":{"y":{"datum":4},"text":{"field":"gene"}}}
]},
{"width":59,"height":1,"data":{"values":[{"a":1}]},"mark":{"type":"rule","opacity":0},"encoding":{}},
{"width":191,"height":170,"data":{"name":"expr"},"transform":[{"filter":"datum.gene=='Pdcd1'"}],"encoding":{"x":{"field":"group","type":"nominal","sort":null,"title":null,"scale":{"range":[0,183.5],"padding":0},"axis":{"labelExpr":"split(datum.label,'|')","labelAngle":-90,"labelAlign":"right","labelBaseline":"middle","labelFontSize":12.5,"labelColor":"#1a1a1a","labelLineHeight":13,"labelPadding":7,"tickSize":3,"domain":false,"labelBound":false,"labelFlush":false}}},"layer":[
{"mark":{"type":"rule","color":"#666"},"encoding":{"y":{"field":"value","type":"quantitative","scale":{"domain":[0,2.5],"nice":false},"axis":{"values":[0,0.5,1,1.5,2,2.5],"tickCount":20,"labelExpr":"datum.value>0&&datum.value<1?slice(format(datum.value,'.1f'),1):format(datum.value,'.1f')","labelFontSize":7,"tickSize":3,"labelPadding":2,"title":"Relative mRNA expression","titleFontSize":13.5,"titleX":-23,"titleY":82,"titleBaseline":"alphabetic"}},"y2":{"field":"top"}}},
{"mark":{"type":"tick","color":"#666","size":6,"thickness":1},"encoding":{"y":{"field":"top","type":"quantitative"}}},
{"mark":{"type":"bar","width":15,"color":"#000","stroke":"#888","strokeWidth":0.5},"encoding":{"y":{"field":"value","type":"quantitative"}}},
{"mark":{"type":"rule","color":"#777"},"encoding":{"x":null,"y":{"datum":0}}},
{"transform":[{"filter":"datum.group=='ΔcNLS1/2'"}],"mark":{"type":"text","fontSize":17,"baseline":"alphabetic","dy":3,"dx":2.25,"color":"#111"},"encoding":{"y":{"datum":2.5},"text":{"field":"gene"}}}
]}
],"spacing":0,"bounds":"flush"},
{"width":5,"height":325,"data":{"values":[{"a":1}]},"mark":{"type":"rule","opacity":0},"encoding":{}},
{"concat":[
{"width":114,"height":74,"data":{"name":"side"},"transform":[{"filter":"datum.cell==1"}],"layer":[
{"transform":[{"filter":"datum.c=='big'"}],"mark":{"type":"text","fontSize":19,"align":"left","baseline":"alphabetic"},"encoding":{"x":{"field":"x","type":"quantitative","scale":{"domain":[0,114],"nice":false},"axis":null},"y":{"field":"y","type":"quantitative","scale":{"domain":[74,0],"nice":false},"axis":null},"text":{"field":"s"}}},
{"transform":[{"filter":"datum.c=='m'"}],"mark":{"type":"text","fontSize":14,"align":"left","baseline":"middle"},"encoding":{"x":{"field":"x","type":"quantitative"},"y":{"field":"y","type":"quantitative"},"text":{"field":"s"}}}]},
{"width":82,"height":74,"title":{"text":"Control","fontSize":12.5,"offset":6},"view":{"stroke":"#888"},"layer":[
{"data":{"name":"blobs"},"transform":[{"filter":"datum.p=='c1'"}],"mark":{"type":"circle","color":"#222","opacity":0.14,"clip":true},"encoding":{"x":{"field":"x","type":"quantitative","scale":{"domain":[-1,3],"nice":false},"axis":{"values":[0,1,2,3],"tickCount":20,"labelExpr":"'10'+['⁰','¹','²','³'][datum.value]","title":"Annexin V-FITC","titleFontSize":5.4,"titleFontWeight":"bold","titlePadding":3,"labelFontSize":5,"tickSize":2,"labelPadding":1,"domain":false}},"y":{"field":"y","type":"quantitative","scale":{"domain":[-0.96,3],"nice":false},"axis":{"values":[0,1,2,3],"tickCount":20,"labelExpr":"'10'+['⁰','¹','²','³'][datum.value]","title":"PI","titleFontSize":5.4,"titleFontWeight":"bold","titleX":-14,"titleY":38,"labelFontSize":5,"tickSize":2,"labelPadding":1,"domain":false}},"size":{"field":"n","type":"quantitative","scale":{"domain":[0,700],"range":[0,700]},"legend":null}}},
{"data":{"name":"dots"},"transform":[{"filter":"datum.p=='c1'"}],"mark":{"type":"circle","color":"#444","size":1.6,"opacity":0.8},"encoding":{"x":{"field":"x","type":"quantitative"},"y":{"field":"y","type":"quantitative"}}},
{"data":{"values":[{"a":0}]},"mark":{"type":"rule","color":"#666"},"encoding":{"y":{"field":"a","type":"quantitative"}}},
{"data":{"values":[{"a":0}]},"mark":{"type":"rule","color":"#666"},"encoding":{"x":{"field":"a","type":"quantitative"}}},
{"data":{"name":"quad"},"mark":{"type":"text","fontSize":5.5,"fontWeight":"bold","align":"left","baseline":"middle"},"encoding":{"x":{"field":"x","type":"quantitative"},"y":{"field":"y","type":"quantitative"},"text":{"field":"s"}}},
{"data":{"name":"pct"},"transform":[{"filter":"datum.p=='c1'"}],"mark":{"type":"text","fontSize":6,"fontWeight":"bold","align":"left","baseline":"middle"},"encoding":{"x":{"field":"x","type":"quantitative"},"y":{"field":"y","type":"quantitative"},"text":{"field":"s"}}}]},
{"width":35,"height":1,"data":{"values":[{"a":1}]},"mark":{"type":"rule","opacity":0},"encoding":{}},
{"width":81,"height":74,"title":{"text":"Ipr1-WT","fontSize":12.5,"offset":6},"view":{"stroke":"#888"},"layer":[
{"data":{"name":"blobs"},"transform":[{"filter":"datum.p=='i1'"}],"mark":{"type":"circle","color":"#222","opacity":0.14,"clip":true},"encoding":{"x":{"field":"x","type":"quantitative","scale":{"domain":[-1,3],"nice":false},"axis":{"values":[0,1,2,3],"tickCount":20,"labelExpr":"'10'+['⁰','¹','²','³'][datum.value]","title":"Annexin V-FITC","titleFontSize":5.4,"titleFontWeight":"bold","titlePadding":3,"labelFontSize":5,"tickSize":2,"labelPadding":1,"domain":false}},"y":{"field":"y","type":"quantitative","scale":{"domain":[-0.96,3],"nice":false},"axis":{"values":[0,1,2,3],"tickCount":20,"labelExpr":"'10'+['⁰','¹','²','³'][datum.value]","title":"PI","titleFontSize":5.4,"titleFontWeight":"bold","titleX":-14,"titleY":38,"labelFontSize":5,"tickSize":2,"labelPadding":1,"domain":false}},"size":{"field":"n","type":"quantitative","scale":{"domain":[0,700],"range":[0,700]},"legend":null}}},
{"data":{"name":"dots"},"transform":[{"filter":"datum.p=='i1'"}],"mark":{"type":"circle","color":"#444","size":1.6,"opacity":0.8},"encoding":{"x":{"field":"x","type":"quantitative"},"y":{"field":"y","type":"quantitative"}}},
{"data":{"values":[{"a":0}]},"mark":{"type":"rule","color":"#666"},"encoding":{"y":{"field":"a","type":"quantitative"}}},
{"data":{"values":[{"a":0}]},"mark":{"type":"rule","color":"#666"},"encoding":{"x":{"field":"a","type":"quantitative"}}},
{"data":{"name":"quad"},"mark":{"type":"text","fontSize":5.5,"fontWeight":"bold","align":"left","baseline":"middle"},"encoding":{"x":{"field":"x","type":"quantitative"},"y":{"field":"y","type":"quantitative"},"text":{"field":"s"}}},
{"data":{"name":"pct"},"transform":[{"filter":"datum.p=='i1'"}],"mark":{"type":"text","fontSize":6,"fontWeight":"bold","align":"left","baseline":"middle"},"encoding":{"x":{"field":"x","type":"quantitative"},"y":{"field":"y","type":"quantitative"},"text":{"field":"s"}}}]},
{"width":34,"height":1,"data":{"values":[{"a":1}]},"mark":{"type":"rule","opacity":0},"encoding":{}},
{"width":81,"height":74,"title":{"text":"R424A,K429A","fontSize":12.5,"offset":6},"view":{"stroke":"#888"},"layer":[
{"data":{"name":"blobs"},"transform":[{"filter":"datum.p=='r1'"}],"mark":{"type":"circle","color":"#222","opacity":0.14,"clip":true},"encoding":{"x":{"field":"x","type":"quantitative","scale":{"domain":[-1,3],"nice":false},"axis":{"values":[0,1,2,3],"tickCount":20,"labelExpr":"'10'+['⁰','¹','²','³'][datum.value]","title":"Annexin V-FITC","titleFontSize":5.4,"titleFontWeight":"bold","titlePadding":3,"labelFontSize":5,"tickSize":2,"labelPadding":1,"domain":false}},"y":{"field":"y","type":"quantitative","scale":{"domain":[-0.96,3],"nice":false},"axis":{"values":[0,1,2,3],"tickCount":20,"labelExpr":"'10'+['⁰','¹','²','³'][datum.value]","title":"PI","titleFontSize":5.4,"titleFontWeight":"bold","titleX":-14,"titleY":38,"labelFontSize":5,"tickSize":2,"labelPadding":1,"domain":false}},"size":{"field":"n","type":"quantitative","scale":{"domain":[0,700],"range":[0,700]},"legend":null}}},
{"data":{"name":"dots"},"transform":[{"filter":"datum.p=='r1'"}],"mark":{"type":"circle","color":"#444","size":1.6,"opacity":0.8},"encoding":{"x":{"field":"x","type":"quantitative"},"y":{"field":"y","type":"quantitative"}}},
{"data":{"values":[{"a":0}]},"mark":{"type":"rule","color":"#666"},"encoding":{"y":{"field":"a","type":"quantitative"}}},
{"data":{"values":[{"a":0}]},"mark":{"type":"rule","color":"#666"},"encoding":{"x":{"field":"a","type":"quantitative"}}},
{"data":{"name":"quad"},"mark":{"type":"text","fontSize":5.5,"fontWeight":"bold","align":"left","baseline":"middle"},"encoding":{"x":{"field":"x","type":"quantitative"},"y":{"field":"y","type":"quantitative"},"text":{"field":"s"}}},
{"data":{"name":"pct"},"transform":[{"filter":"datum.p=='r1'"}],"mark":{"type":"text","fontSize":6,"fontWeight":"bold","align":"left","baseline":"middle"},"encoding":{"x":{"field":"x","type":"quantitative"},"y":{"field":"y","type":"quantitative"},"text":{"field":"s"}}}]},
{"width":94,"height":1,"data":{"values":[{"a":1}]},"mark":{"type":"rule","opacity":0},"encoding":{}},
{"width":212,"height":74,"layer":[
{"data":{"name":"apop"},"mark":{"type":"rule","color":"#666"},"encoding":{"x":{"field":"n","type":"quantitative","scale":{"domain":[0.5,4.5],"nice":false,"padding":0},"axis":null},"y":{"field":"value","type":"quantitative","scale":{"domain":[0,21.97],"nice":false,"range":[167,0]},"axis":{"values":[0,5,10,15,20],"tickCount":20,"labelFontSize":7,"tickSize":3,"labelPadding":2,"domain":false,"title":"% Apoptosis rate","titleFontSize":14,"titleX":-20,"titleY":89,"titleBaseline":"alphabetic"}},"y2":{"field":"top"}}},
{"data":{"name":"apop"},"mark":{"type":"tick","orient":"horizontal","color":"#666","size":7,"thickness":1},"encoding":{"x":{"field":"n","type":"quantitative","axis":null},"y":{"field":"top","type":"quantitative"}}},
{"data":{"name":"apop"},"mark":{"type":"bar","orient":"vertical","width":21.5,"color":"#000","stroke":"#888","strokeWidth":0.5},"encoding":{"x":{"field":"n","type":"quantitative","axis":null},"y":{"field":"value","type":"quantitative"}}},
{"data":{"values":[{"a":0}]},"mark":{"type":"rule","color":"#777"},"encoding":{"y":{"field":"a","type":"quantitative"}}},
{"data":{"values":[{"a":0,"b":20}]},"mark":{"type":"rule","color":"#777"},"encoding":{"x":{"value":0},"y":{"field":"a","type":"quantitative"},"y2":{"field":"b"}}},
{"data":{"name":"bracket"},"mark":{"type":"line","color":"#111","strokeWidth":1},"encoding":{"x":{"field":"n","type":"quantitative","axis":null},"y":{"field":"y","type":"quantitative"},"order":{"field":"step"}}},
{"data":{"name":"apopLabels"},"mark":{"type":"text","fontSize":12.5,"baseline":"middle"},"encoding":{"x":{"field":"n","type":"quantitative","axis":null},"y":{"field":"y","type":"quantitative"},"text":{"field":"s"}}},
{"data":{"name":"stars"},"mark":{"type":"text","fontSize":14,"fontWeight":"bold","baseline":"middle"},"encoding":{"x":{"field":"n","type":"quantitative","axis":null},"y":{"field":"y","type":"quantitative"},"text":{"field":"s"}}}]},
{"width":114,"height":74,"data":{"name":"side"},"transform":[{"filter":"datum.cell==2"}],"mark":{"type":"text","fontSize":14,"align":"left","baseline":"middle"},"encoding":{"x":{"field":"x","type":"quantitative","scale":{"domain":[0,114],"nice":false},"axis":null},"y":{"field":"y","type":"quantitative","scale":{"domain":[74,0],"nice":false},"axis":null},"text":{"field":"s"}}},
{"width":82,"height":74,"view":{"stroke":"#888"},"layer":[
{"data":{"name":"blobs"},"transform":[{"filter":"datum.p=='c2'"}],"mark":{"type":"circle","color":"#222","opacity":0.14,"clip":true},"encoding":{"x":{"field":"x","type":"quantitative","scale":{"domain":[-1,3],"nice":false},"axis":{"values":[0,1,2,3],"tickCount":20,"labelExpr":"'10'+['⁰','¹','²','³'][datum.value]","title":"Annexin V-FITC","titleFontSize":5.4,"titleFontWeight":"bold","titlePadding":3,"labelFontSize":5,"tickSize":2,"labelPadding":1,"domain":false}},"y":{"field":"y","type":"quantitative","scale":{"domain":[-0.96,3],"nice":false},"axis":{"values":[0,1,2,3],"tickCount":20,"labelExpr":"'10'+['⁰','¹','²','³'][datum.value]","title":"PI","titleFontSize":5.4,"titleFontWeight":"bold","titleX":-14,"titleY":38,"labelFontSize":5,"tickSize":2,"labelPadding":1,"domain":false}},"size":{"field":"n","type":"quantitative","scale":{"domain":[0,700],"range":[0,700]},"legend":null}}},
{"data":{"name":"dots"},"transform":[{"filter":"datum.p=='c2'"}],"mark":{"type":"circle","color":"#444","size":1.6,"opacity":0.8},"encoding":{"x":{"field":"x","type":"quantitative"},"y":{"field":"y","type":"quantitative"}}},
{"data":{"values":[{"a":0}]},"mark":{"type":"rule","color":"#666"},"encoding":{"y":{"field":"a","type":"quantitative"}}},
{"data":{"values":[{"a":0}]},"mark":{"type":"rule","color":"#666"},"encoding":{"x":{"field":"a","type":"quantitative"}}},
{"data":{"name":"quad"},"mark":{"type":"text","fontSize":5.5,"fontWeight":"bold","align":"left","baseline":"middle"},"encoding":{"x":{"field":"x","type":"quantitative"},"y":{"field":"y","type":"quantitative"},"text":{"field":"s"}}},
{"data":{"name":"pct"},"transform":[{"filter":"datum.p=='c2'"}],"mark":{"type":"text","fontSize":6,"fontWeight":"bold","align":"left","baseline":"middle"},"encoding":{"x":{"field":"x","type":"quantitative"},"y":{"field":"y","type":"quantitative"},"text":{"field":"s"}}}]},
{"width":35,"height":1,"data":{"values":[{"a":1}]},"mark":{"type":"rule","opacity":0},"encoding":{}},
{"width":81,"height":74,"view":{"stroke":"#888"},"layer":[
{"data":{"name":"blobs"},"transform":[{"filter":"datum.p=='i2'"}],"mark":{"type":"circle","color":"#222","opacity":0.14,"clip":true},"encoding":{"x":{"field":"x","type":"quantitative","scale":{"domain":[-1,3],"nice":false},"axis":{"values":[0,1,2,3],"tickCount":20,"labelExpr":"'10'+['⁰','¹','²','³'][datum.value]","title":"Annexin V-FITC","titleFontSize":5.4,"titleFontWeight":"bold","titlePadding":3,"labelFontSize":5,"tickSize":2,"labelPadding":1,"domain":false}},"y":{"field":"y","type":"quantitative","scale":{"domain":[-0.96,3],"nice":false},"axis":{"values":[0,1,2,3],"tickCount":20,"labelExpr":"'10'+['⁰','¹','²','³'][datum.value]","title":"PI","titleFontSize":5.4,"titleFontWeight":"bold","titleX":-14,"titleY":38,"labelFontSize":5,"tickSize":2,"labelPadding":1,"domain":false}},"size":{"field":"n","type":"quantitative","scale":{"domain":[0,700],"range":[0,700]},"legend":null}}},
{"data":{"name":"dots"},"transform":[{"filter":"datum.p=='i2'"}],"mark":{"type":"circle","color":"#444","size":1.6,"opacity":0.8},"encoding":{"x":{"field":"x","type":"quantitative"},"y":{"field":"y","type":"quantitative"}}},
{"data":{"values":[{"a":0}]},"mark":{"type":"rule","color":"#666"},"encoding":{"y":{"field":"a","type":"quantitative"}}},
{"data":{"values":[{"a":0}]},"mark":{"type":"rule","color":"#666"},"encoding":{"x":{"field":"a","type":"quantitative"}}},
{"data":{"name":"quad"},"mark":{"type":"text","fontSize":5.5,"fontWeight":"bold","align":"left","baseline":"middle"},"encoding":{"x":{"field":"x","type":"quantitative"},"y":{"field":"y","type":"quantitative"},"text":{"field":"s"}}},
{"data":{"name":"pct"},"transform":[{"filter":"datum.p=='i2'"}],"mark":{"type":"text","fontSize":6,"fontWeight":"bold","align":"left","baseline":"middle"},"encoding":{"x":{"field":"x","type":"quantitative"},"y":{"field":"y","type":"quantitative"},"text":{"field":"s"}}}]},
{"width":34,"height":1,"data":{"values":[{"a":1}]},"mark":{"type":"rule","opacity":0},"encoding":{}},
{"width":81,"height":74,"view":{"stroke":"#888"},"layer":[
{"data":{"name":"blobs"},"transform":[{"filter":"datum.p=='r2'"}],"mark":{"type":"circle","color":"#222","opacity":0.14,"clip":true},"encoding":{"x":{"field":"x","type":"quantitative","scale":{"domain":[-1,3],"nice":false},"axis":{"values":[0,1,2,3],"tickCount":20,"labelExpr":"'10'+['⁰','¹','²','³'][datum.value]","title":"Annexin V-FITC","titleFontSize":5.4,"titleFontWeight":"bold","titlePadding":3,"labelFontSize":5,"tickSize":2,"labelPadding":1,"domain":false}},"y":{"field":"y","type":"quantitative","scale":{"domain":[-0.96,3],"nice":false},"axis":{"values":[0,1,2,3],"tickCount":20,"labelExpr":"'10'+['⁰','¹','²','³'][datum.value]","title":"PI","titleFontSize":5.4,"titleFontWeight":"bold","titleX":-14,"titleY":38,"labelFontSize":5,"tickSize":2,"labelPadding":1,"domain":false}},"size":{"field":"n","type":"quantitative","scale":{"domain":[0,700],"range":[0,700]},"legend":null}}},
{"data":{"name":"dots"},"transform":[{"filter":"datum.p=='r2'"}],"mark":{"type":"circle","color":"#444","size":1.6,"opacity":0.8},"encoding":{"x":{"field":"x","type":"quantitative"},"y":{"field":"y","type":"quantitative"}}},
{"data":{"values":[{"a":0}]},"mark":{"type":"rule","color":"#666"},"encoding":{"y":{"field":"a","type":"quantitative"}}},
{"data":{"values":[{"a":0}]},"mark":{"type":"rule","color":"#666"},"encoding":{"x":{"field":"a","type":"quantitative"}}},
{"data":{"name":"quad"},"mark":{"type":"text","fontSize":5.5,"fontWeight":"bold","align":"left","baseline":"middle"},"encoding":{"x":{"field":"x","type":"quantitative"},"y":{"field":"y","type":"quantitative"},"text":{"field":"s"}}},
{"data":{"name":"pct"},"transform":[{"filter":"datum.p=='r2'"}],"mark":{"type":"text","fontSize":6,"fontWeight":"bold","align":"left","baseline":"middle"},"encoding":{"x":{"field":"x","type":"quantitative"},"y":{"field":"y","type":"quantitative"},"text":{"field":"s"}}}]}
],"columns":8,"align":"none","bounds":"flush","spacing":{"row":30,"column":0}}
],"spacing":0,"bounds":"flush"}
